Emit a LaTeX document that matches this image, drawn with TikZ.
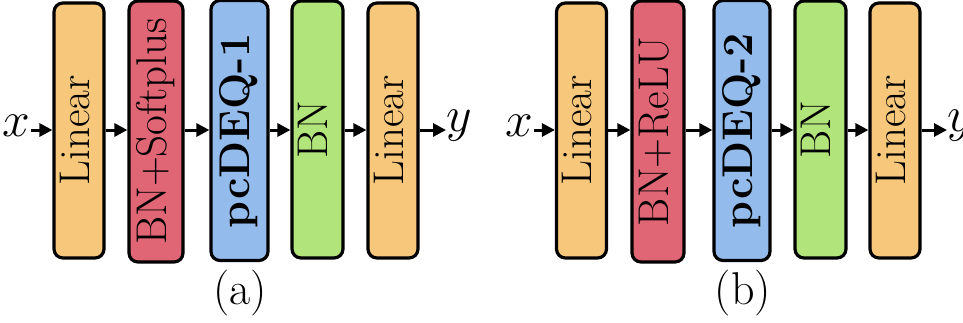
\documentclass[tikz,border=0pt]{standalone}
\usetikzlibrary{arrows.meta}
\definecolor{cOrange}{RGB}{247,200,124}
\definecolor{cRed}{RGB}{224,102,117}
\definecolor{cBlue}{RGB}{147,188,236}
\definecolor{cGreen}{RGB}{177,228,122}
\newcommand{\boxtxt}[1]{\rotatebox{90}{\fontsize{21.5}{25}\selectfont\strut #1}}
\begin{document}
\begin{tikzpicture}[x=0.5pt,y=-0.5pt,
  blk/.style={draw=black,line width=1.6pt,rounded corners=4.5pt,inner sep=0pt},
  arr/.style={line width=1.5pt,-{Triangle[length=6.5pt,width=6.5pt]}},
  lbl/.style={inner sep=0pt,font=\fontsize{23}{27}\selectfont},
  mlbl/.style={inner sep=0pt,font=\fontsize{25}{30}\selectfont}]
\useasboundingbox (0,0) rectangle (963,322);
% panel (a)
\node[blk,fill=cOrange,minimum width=24pt,minimum height=127.5pt] (a1) at (79,130.5) {\boxtxt{Linear}};
\node[blk,fill=cRed,minimum width=27pt,minimum height=130.5pt] (a2) at (156,131.5) {\boxtxt{BN$+$Softplus}};
\node[blk,fill=cBlue,minimum width=28.5pt,minimum height=130pt] (a3) at (239.5,130.5) {\boxtxt{\textbf{pcDEQ-1}}};
\node[blk,fill=cGreen,minimum width=25.5pt,minimum height=128.5pt] (a4) at (317.5,129.5) {\boxtxt{BN}};
\node[blk,fill=cOrange,minimum width=24pt,minimum height=127.5pt] (a5) at (393,130.5) {\boxtxt{Linear}};
\node[mlbl,anchor=east] (ax) at (31,126) {$x$};
\node[mlbl,anchor=west] (ay) at (446,126) {$y$};
\coordinate (ain) at (31,130);
\draw[arr] (ain) -- (ain -| a1.west);
\draw[arr] (a1.east |- ain) -- (a2.west |- ain);
\draw[arr] (a2.east |- ain) -- (a3.west |- ain);
\draw[arr] (a3.east |- ain) -- (a4.west |- ain);
\draw[arr] (a4.east |- ain) -- (a5.west |- ain);
\draw[arr] (a5.east |- ain) -- (ay.west |- ain);
\node[lbl] (la) at (240,293) {(a)};
% panel (b)
\node[blk,fill=cOrange,minimum width=23.5pt,minimum height=127.5pt] (b1) at (581.5,130.5) {\boxtxt{Linear}};
\node[blk,fill=cRed,minimum width=26pt,minimum height=130.5pt] (b2) at (658,131.5) {\boxtxt{BN$+$ReLU}};
\node[blk,fill=cBlue,minimum width=28pt,minimum height=130pt] (b3) at (742,130.5) {\boxtxt{\textbf{pcDEQ-2}}};
\node[blk,fill=cGreen,minimum width=25.5pt,minimum height=128.5pt] (b4) at (820.5,129.5) {\boxtxt{BN}};
\node[blk,fill=cOrange,minimum width=23pt,minimum height=127.5pt] (b5) at (895,130.5) {\boxtxt{Linear}};
\node[mlbl,anchor=east] (bx) at (534,126) {$x$};
\node[mlbl,anchor=west] (by) at (947,126) {$y$};
\coordinate (bin) at (534,130);
\draw[arr] (bin) -- (bin -| b1.west);
\draw[arr] (b1.east |- bin) -- (b2.west |- bin);
\draw[arr] (b2.east |- bin) -- (b3.west |- bin);
\draw[arr] (b3.east |- bin) -- (b4.west |- bin);
\draw[arr] (b4.east |- bin) -- (b5.west |- bin);
\draw[arr] (b5.east |- bin) -- (by.west |- bin);
\node[lbl] (lb) at (743,293) {(b)};
\end{tikzpicture}
\end{document}
